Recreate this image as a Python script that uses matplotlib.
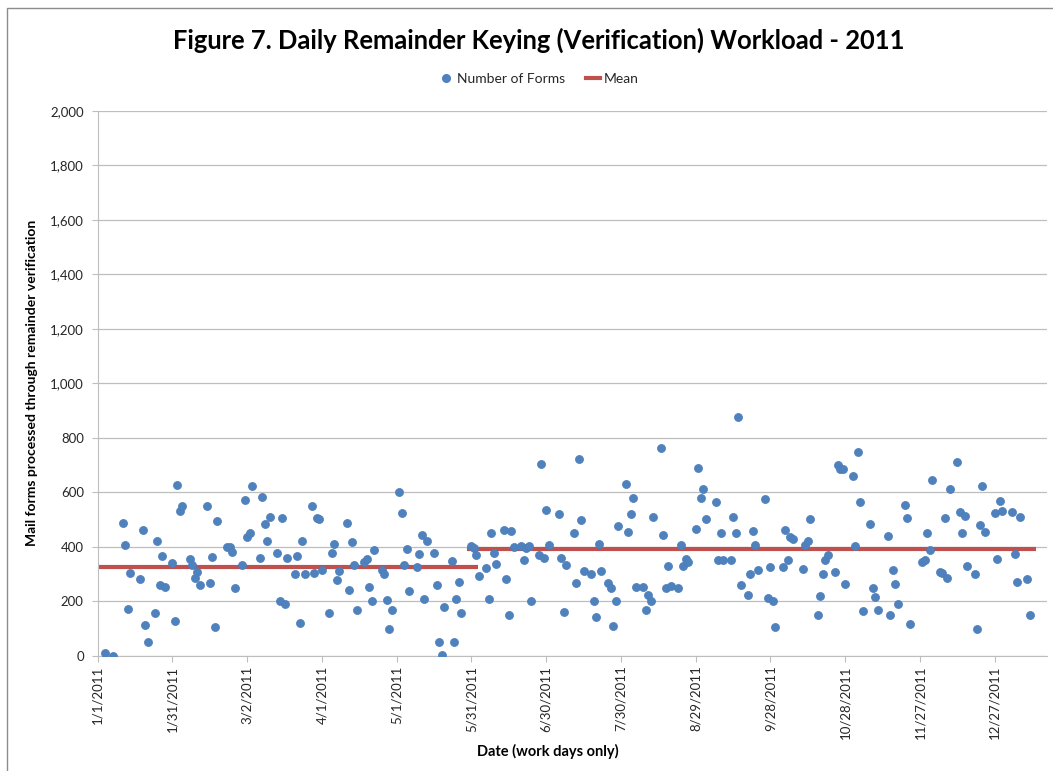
import pandas as pd
import matplotlib
matplotlib.use("Agg")
import matplotlib.pyplot as plt
from matplotlib.lines import Line2D
from matplotlib.patches import Rectangle

plt.rcParams["font.family"] = ["Lato", "DejaVu Sans"]

BLUE = "#4F81BD"
RED = "#C0504D"
GRID = "#BEBEBE"
TXT = "#262626"

START = pd.Timestamp("2011-01-01")

# days after 1/1/2011 (work days only) and forms per day
days = [3, 6, 10, 11, 12, 13, 17, 18, 19, 20, 23, 24, 25, 26, 27, 30, 31, 32, 33, 34,
        37, 38, 39, 40, 41, 44, 45, 46, 47, 48, 52, 53, 54, 55, 58, 59, 60, 61, 62,
        65, 66, 67, 68, 69, 72, 73, 74, 75, 76, 79, 80, 81, 82, 83, 86, 87, 88, 89, 90,
        93, 94, 95, 96, 97, 100, 101, 102, 103, 104, 107, 108, 109, 110, 111,
        114, 115, 116, 117, 118, 121, 122, 123, 124, 125, 128, 129,
        130, 131, 132, 135, 136, 137, 138, 139, 142, 143, 144, 145, 146, 150, 151, 152, 153,
        156, 157, 158, 159, 160, 163, 164, 165, 166, 167, 170, 171, 172, 173, 174,
        177, 178, 179, 180, 181, 185, 186, 187, 188, 191, 192, 193, 194,
        195, 198, 199, 200, 201, 202, 205, 206, 207, 208, 209, 212, 213, 214, 215, 216,
        219, 220, 221, 222, 223, 226, 227, 228, 229, 230, 233, 234, 235, 236, 237,
        240, 241, 242, 243, 244, 248, 249, 250, 251, 254, 255, 256, 257, 258,
        261, 262, 263, 264, 265, 268, 269, 270, 271, 272, 275, 276, 277, 278, 279,
        283, 284, 285, 286, 289, 290, 291, 292, 293, 296, 297, 298, 299, 300,
        303, 304, 305, 306, 307, 310, 311, 312, 313, 317, 318, 319, 320, 321,
        324, 325, 326, 331, 332, 333, 334, 335, 338, 339, 340, 341, 342,
        345, 346, 347, 348, 349, 352, 353, 354, 355, 356, 360, 361, 362, 363,
        367, 368, 369, 370, 373, 374]
forms = [10, 1, 488, 406, 172, 305, 281, 461, 114, 50, 159, 420, 261, 368, 252, 342, 129, 627, 531, 549,
         355, 335, 286, 308, 261, 550, 267, 363, 105, 494, 398, 400, 381, 251, 335, 572, 436, 450, 623,
         358, 583, 483, 420, 510, 379, 201, 505, 190, 358, 300, 368, 121, 420, 301, 551, 305, 506, 501, 317,
         157, 376, 409, 277, 312, 488, 243, 417, 332, 168, 344, 355, 254, 201, 387,
         314, 300, 207, 99, 169, 600, 525, 335, 391, 240, 326, 375,
         445, 210, 423, 376, 261, 50, 4, 181, 350, 50, 210, 272, 157, 403, 396, 369, 294,
         321, 210, 450, 376, 338, 463, 281, 150, 457, 398, 402, 352, 396, 402, 201,
         370, 705, 358, 537, 407, 521, 358, 161, 332, 452, 267, 723, 499,
         311, 299, 201, 142, 409, 311, 266, 250, 110, 201, 478, 631, 453, 521, 578, 254,
         254, 169, 224, 201, 510, 762, 442, 250, 330, 256, 250, 408, 331, 357, 344,
         466, 691, 578, 614, 501, 563, 352, 452, 353, 352, 510, 451, 876, 259,
         225, 299, 460, 408, 314, 576, 214, 326, 201, 108, 326, 461, 352, 436, 430,
         319, 408, 420, 502, 152, 221, 299, 352, 369, 308, 702, 685, 685, 263,
         661, 402, 748, 563, 164, 485, 250, 217, 170, 439, 152, 316, 263, 190,
         554, 507, 118, 346, 352, 451, 387, 647, 308, 304, 507, 287, 612,
         712, 527, 451, 515, 330, 299, 99, 480, 623, 456, 523, 355, 567, 533,
         527, 375, 272, 510, 281, 150]

# mean lines: (start day, end day) and level
mean1_days = [0, 152.5]
mean1 = 327
mean2_days = [148.3, 376.7]
mean2 = 392

tick_dates = ["2011-01-01", "2011-01-31", "2011-03-02", "2011-04-01", "2011-05-01",
              "2011-05-31", "2011-06-30", "2011-07-30", "2011-08-29", "2011-09-28",
              "2011-10-28", "2011-11-27", "2011-12-27"]
tick_labels = ["1/1/2011", "1/31/2011", "3/2/2011", "4/1/2011", "5/1/2011", "5/31/2011",
               "6/30/2011", "7/30/2011", "8/29/2011", "9/28/2011", "10/28/2011",
               "11/27/2011", "12/27/2011"]
y_ticks = list(range(0, 2001, 200))

dates = START + pd.to_timedelta(days, unit="D")
m1 = START + pd.to_timedelta(mean1_days, unit="D")
m2 = START + pd.to_timedelta(mean2_days, unit="D")

W, H = 1053, 771
fig = plt.figure(figsize=(W / 100, H / 100), dpi=100)
fig.patch.set_facecolor("white")

# chart-area border (only left/top visible in the original)
fig.patches.append(Rectangle((7 / W, -0.1), 1.1, 1.1 - 8 / H, transform=fig.transFigure,
                             fill=False, edgecolor="#8C8C8C", lw=1.0))

ax = fig.add_axes([97.7 / W, 1 - 656 / H, (1047 - 97.7) / W, (656 - 110.7) / H])

ax.plot(m1, [mean1, mean1], color=RED, lw=3, solid_capstyle="butt", zorder=2)
ax.plot(m2, [mean2, mean2], color=RED, lw=3, solid_capstyle="butt", zorder=2)
ax.plot(dates, forms, "o", ms=5.8, color=BLUE, mec="#4A7EBB", mew=0.5, zorder=3)

ax.set_xlim(START, START + pd.Timedelta(days=381))
ax.set_ylim(0, 2000)
ax.set_yticks(y_ticks)
ax.set_yticklabels([f"{v:,}" for v in y_ticks])
ax.set_xticks(pd.to_datetime(tick_dates))
ax.set_xticklabels(tick_labels, rotation=90)

ax.grid(axis="y", color=GRID, lw=0.9)
ax.set_axisbelow(True)
for side in ["top", "right"]:
    ax.spines[side].set_visible(False)
ax.spines["left"].set_color(GRID)
ax.spines["bottom"].set_color(GRID)
ax.tick_params(axis="both", direction="out", length=4, color=GRID, labelcolor=TXT,
               labelsize=9.5, pad=3)
ax.tick_params(axis="y", pad=6)

fig.text(539 / W, 1 - 40 / H, "Figure 7. Daily Remainder Keying (Verification) Workload - 2011",
         ha="center", va="center", fontsize=18.4, fontweight="bold", color="black")
fig.text(32 / W, 1 - 383 / H, "Mail forms processed through remainder verification",
         rotation=90, ha="center", va="center", fontsize=10, fontweight="bold", color="black")
fig.text(548 / W, 1 - 751 / H, "Date (work days only)", ha="center", va="center",
         fontsize=10.5, fontweight="bold", color="black")

handles = [Line2D([], [], marker="o", ls="none", ms=5.5, color=BLUE),
           Line2D([], [], color=RED, lw=3)]
fig.legend(handles, ["Number of Forms", "Mean"], loc="center", ncol=2, frameon=False,
           bbox_to_anchor=(539 / W, 1 - 79 / H), fontsize=10, handlelength=1.0,
           handletextpad=0.3, columnspacing=1.5, labelcolor=TXT)

fig.savefig("out.png", dpi=100, facecolor="white")
